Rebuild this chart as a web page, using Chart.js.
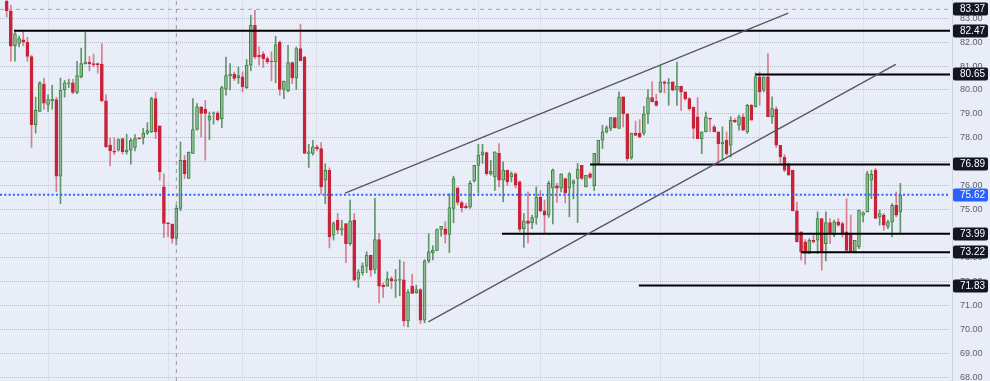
<!DOCTYPE html>
<html>
<head>
<meta charset="utf-8">
<script src="https://cdn.jsdelivr.net/npm/chart.js@4.4.0/dist/chart.umd.min.js"></script>
<style>
  html, body { margin: 0; padding: 0; background: #e9edf8; }
  canvas { display: block; }
</style>
</head>
<body>
<canvas id="grafico" width="990" height="381"></canvas>
<script>
// velas diarias (valores aproximados)
const apertura = [83.7,83.3,81.85,81.95,82.1,82.0,81.4,78.55,79.1,80.25,79.4,79.55,79.6,76.4,80.0,80.25,80.3,79.9,80.55,81.1,
  81.17,81.1,81.1,81.08,79.55,77.7,77.45,77.48,77.97,77.42,77.48,77.6,78.0,78.0,78.2,78.25,79.64,78.5,75.95,74.45,
  74.4,73.8,75.05,77.06,76.3,77.35,78.35,79.3,79.2,78.74,79.0,79.05,78.8,80.03,80.6,80.66,80.5,80.55,80.1,81.04,
  82.7,81.45,81.5,81.31,81.2,81.17,82.0,80.02,79.96,81.15,80.5,81.73,81.38,77.35,77.35,77.62,77.55,76.23,76.64,73.93,
  74.56,74.14,74.42,73.58,74.56,72.1,72.36,72.64,73.1,72.5,73.75,71.84,71.8,72.12,72.03,72.05,72.07,70.35,71.8,71.53,
  71.66,70.38,72.86,73.2,73.3,74.17,74.2,73.97,75.05,75.9,75.3,75.14,75.1,76.2,76.85,77.3,77.38,76.5,76.37,77.35,
  76.23,76.65,76.37,76.5,76.16,74.2,74.53,74.45,74.67,75.53,74.95,74.77,75.9,76.0,75.9,76.3,75.9,76.1,76.3,76.85,
  75.95,76.5,76.0,76.93,77.9,78.25,78.39,78.85,78.39,79.71,79.0,77.17,78.2,78.2,78.2,79.0,79.68,79.53,79.92,80.34,
  80.27,80.34,80.0,80.16,79.92,79.64,79.29,78.88,77.97,78.25,78.8,78.46,78.25,77.76,77.9,77.69,78.73,78.53,78.88,78.25,
  79.36,79.29,80.55,79.99,80.55,78.88,79.2,77.69,77.2,76.93,76.65,74.95,74.07,73.65,73.17,73.72,73.72,74.63,73.58,74.46,
  73.93,74.49,74.42,74.07,74.0,73.24,73.44,74.77,74.91,76.23,76.65,74.7,74.77,74.3,74.49,75.18,74.91];
const maximo = [83.8,83.55,82.5,82.25,82.45,82.2,81.45,79.7,80.35,80.5,79.8,80.2,79.7,80.5,80.4,80.45,80.45,81.2,81.75,82.4,
  81.4,81.5,81.13,81.94,79.8,78.0,78.0,77.97,77.97,78.15,77.97,78.14,78.0,78.4,78.64,79.7,79.9,78.5,76.5,74.46,
  74.4,75.18,77.83,77.27,77.41,79.64,79.43,79.3,79.57,79.08,79.08,79.1,80.16,81.38,81.1,80.75,80.96,80.76,81.27,83.12,
  83.33,81.8,81.6,81.38,81.6,82.25,82.05,80.37,81.87,81.17,81.8,82.75,81.41,77.73,77.9,77.7,77.8,76.92,76.75,74.49,
  74.84,74.56,74.42,75.4,74.84,72.5,72.78,73.24,73.1,75.47,74.0,71.94,72.4,72.2,72.5,72.9,72.82,71.66,72.3,71.84,
  71.7,72.91,74.0,73.5,74.2,74.3,74.49,75.67,76.4,75.95,75.35,75.25,76.2,76.85,77.73,77.73,77.4,77.06,77.42,77.76,
  77.0,76.65,76.58,76.55,76.2,74.84,75.74,74.77,75.95,75.8,75.4,76.2,76.7,76.1,76.5,76.3,76.55,76.25,76.93,76.85,
  76.43,76.55,77.35,77.9,78.53,78.5,78.85,78.85,79.92,79.71,79.0,78.2,78.7,78.76,79.32,80.02,80.34,79.82,81.03,80.38,
  80.48,80.34,81.17,80.16,79.92,79.68,79.29,79.68,78.25,79.08,78.8,78.53,78.25,78.46,78.25,78.88,78.8,78.95,79.0,79.4,
  79.4,80.71,80.75,80.55,81.52,79.71,79.3,77.69,77.3,76.93,76.65,75.32,74.07,73.75,73.79,73.93,74.91,74.63,74.91,74.63,
  74.56,74.63,74.49,75.46,74.77,73.72,74.98,74.91,76.6,76.65,76.72,74.98,74.84,74.56,75.25,75.74,76.1];
const minimo = [83.05,81.2,81.2,81.8,81.85,81.2,77.6,78.2,79.1,79.2,79.1,79.2,75.75,75.25,79.7,80.1,79.85,79.85,80.5,81.08,
  80.8,80.97,80.7,79.5,77.6,76.83,77.3,77.45,77.32,77.32,76.9,77.45,77.95,77.74,78.14,78.22,77.97,76.23,73.84,73.86,
  73.6,73.52,74.95,76.3,76.3,77.35,78.32,78.04,77.07,77.93,78.57,78.7,78.43,79.78,80.0,80.4,80.27,79.92,80.06,80.8,
  81.31,81.04,80.94,81.1,80.38,80.3,79.78,79.64,79.92,80.27,80.02,81.22,77.35,76.76,77.28,77.45,75.65,75.25,73.4,73.73,
  74.0,73.93,72.78,73.51,72.03,71.75,72.26,72.36,72.22,72.33,71.1,71.33,71.8,71.7,71.33,71.4,70.13,70.1,71.5,71.5,
  70.24,70.27,72.78,72.9,73.28,73.89,73.6,73.2,74.45,75.2,74.9,75.05,75.05,76.15,75.7,76.93,76.44,76.44,75.8,75.95,
  75.33,76.02,76.16,75.9,74.07,73.42,73.61,74.2,74.39,74.9,74.03,74.67,74.4,75.3,75.74,75.28,74.7,75.45,74.46,76.25,
  75.95,76.3,75.8,76.9,77.55,78.2,78.3,78.4,78.39,78.46,77.04,77.1,78.1,78.0,78.11,78.6,79.5,79.32,79.88,79.88,
  79.36,79.96,79.36,79.15,79.57,79.15,77.97,77.97,77.34,78.25,78.25,78.25,76.86,77.06,77.27,77.2,78.63,78.32,78.3,78.18,
  78.74,79.29,79.36,79.92,78.88,78.6,77.6,76.93,76.58,76.44,74.95,73.65,72.9,72.72,73.17,73.6,73.17,72.47,72.86,73.58,
  73.86,74.3,73.86,73.24,73.24,73.24,73.37,74.49,74.9,75.46,74.63,74.35,74.14,74.21,73.86,74.7,73.99];
const cierre = [83.3,81.83,82.35,82.15,82.0,81.4,78.55,79.15,80.3,79.45,79.6,79.62,76.4,80.0,80.3,80.3,79.9,80.6,81.1,81.17,
  81.1,81.06,81.05,79.55,77.62,77.45,77.4,77.93,77.42,77.48,77.9,77.97,77.96,78.2,78.3,79.64,78.25,76.58,74.42,74.4,
  73.8,75.05,77.06,76.5,77.41,78.35,79.3,79.02,79.02,78.9,79.05,78.76,80.1,80.6,80.66,80.48,80.6,80.13,81.04,82.7,
  81.38,81.38,81.31,81.17,81.17,81.9,80.02,80.37,81.15,80.5,81.73,81.22,77.35,77.42,77.62,77.55,75.95,76.64,73.86,74.42,
  74.14,74.21,73.58,74.53,72.05,72.4,72.64,73.1,72.47,73.75,71.8,71.78,72.12,72.03,72.07,72.07,70.35,71.56,71.5,71.66,
  70.38,72.86,73.24,73.3,74.17,74.3,73.97,75.09,76.3,75.3,75.08,75.08,76.1,76.85,77.28,77.42,76.5,76.6,77.42,76.23,
  76.65,76.16,76.51,76.02,74.17,74.53,74.42,74.67,75.53,74.95,74.77,76.1,76.65,75.9,76.5,75.7,76.5,76.2,76.7,76.3,
  76.43,76.35,77.35,77.9,78.25,78.43,78.85,78.43,79.71,79.0,77.13,78.2,78.1,78.04,78.99,79.68,79.5,79.36,80.34,80.27,
  80.3,79.99,80.16,79.92,79.64,79.22,78.39,77.97,78.25,78.88,78.78,78.25,77.76,77.82,77.34,78.73,78.68,78.88,78.32,79.36,
  78.74,80.55,79.92,80.55,78.88,79.22,77.69,77.2,76.65,76.44,74.95,73.65,73.23,73.17,73.72,73.65,74.63,73.24,74.46,74.0,
  74.49,74.35,74.0,73.3,73.24,73.72,74.98,74.88,76.5,76.48,74.63,74.84,74.35,74.49,75.18,74.77,75.62];

// niveles horizontales y desde que vela empiezan
const niveles = [82.47, 80.65, 76.89, 73.99, 73.22, 71.83];
const inicioNiveles = [1.8, 181, 141, 119.7, 192, 152.8];
const precioActual = 75.62;
const precioCursor = 83.37;
const velaCursor = 41;
// lineas de tendencia [vela, precio]
const tendenciaSuperior = [[81.8, 75.69], [188.9, 83.21]];
const tendenciaInferior = [[101.9, 70.31], [214.9, 81.07]];
// separaciones de mes (lineas verticales)
const divisiones = [10, 39, 57, 75, 99, 114, 129, 158, 182, 207];

const xMin = -1.62, xMax = 228.0;
const yMin = 67.84, yMax = 83.76;

const verde = "#3e8045", verdeRelleno = "#8dbf92", rojo = "#c8233a";
const sube = apertura.map((o, i) => cierre[i] >= o);

const mechas = apertura.map((o, i) => ({ x: i, y: [minimo[i], maximo[i]] }));
const cuerpos = apertura.map((o, i) => ({ x: i, y: [Math.min(o, cierre[i]), Math.max(o, cierre[i])] }));

function linea(puntos, color, ancho, guiones) {
  return {
    type: "line",
    data: puntos.map(p => ({ x: p[0], y: p[1] })),
    borderColor: color,
    borderWidth: ancho,
    borderDash: guiones || [],
    pointRadius: 0,
    order: 1,
  };
}

const datasets = [
  {
    type: "bar",
    data: mechas,
    backgroundColor: sube.map(s => (s ? "rgba(62,128,69,0.8)" : "rgba(200,35,58,0.55)")),
    barThickness: 1,
    grouped: false,
    minBarLength: 1,
    order: 10,
  },
  {
    type: "bar",
    data: cuerpos,
    backgroundColor: sube.map(s => (s ? verdeRelleno : rojo)),
    borderColor: sube.map(s => (s ? verde : rojo)),
    borderWidth: 1,
    borderSkipped: false,
    barThickness: 3,
    grouped: false,
    minBarLength: 1,
    order: 9,
  },
  linea([[velaCursor, yMin], [velaCursor, yMax]], "#9598a1", 1, [4, 4]),
  linea([[xMin, precioCursor], [xMax, precioCursor]], "#a3a6af", 1, [4, 4]),
  linea([[xMin, precioActual], [xMax, precioActual]], "#2962ff", 2, [2, 2.3]),
  linea(tendenciaSuperior, "#555860", 1.3),
  linea(tendenciaInferior, "#555860", 1.3),
];
niveles.forEach((v, k) => {
  datasets.push(linea([[inicioNiveles[k], v], [xMax, v]], "#000000", 2));
});

// cajas de precio sobre el eje derecho
const etiquetas = {
  id: "etiquetas",
  afterDraw(chart) {
    const { ctx, chartArea } = chart;
    const y = chart.scales.y;
    const cajas = niveles.map(v => [v, "#131722"]);
    cajas.push([precioActual, "#2962ff"]);
    cajas.push([precioCursor, "#131722"]);
    ctx.save();
    ctx.strokeStyle = "#cfd3de";
    ctx.lineWidth = 1;
    ctx.beginPath();
    ctx.moveTo(chartArea.right + 2.5, 0);
    ctx.lineTo(chartArea.right + 2.5, chart.height);
    ctx.stroke();
    ctx.font = "10px 'Liberation Sans', Arial, sans-serif";
    ctx.textBaseline = "middle";
    ctx.textAlign = "left";
    cajas.forEach(([v, color]) => {
      const py = Math.round(y.getPixelForValue(v));
      ctx.fillStyle = color;
      ctx.beginPath();
      ctx.roundRect(chartArea.right + 3, py - 6.5, 35, 13, 2);
      ctx.fill();
      ctx.fillStyle = "#ffffff";
      ctx.fillText(v.toFixed(2), chartArea.right + 10, py + 0.5);
    });
    ctx.restore();
  },
};

new Chart(document.getElementById("grafico"), {
  type: "bar",
  data: { datasets: datasets },
  options: {
    responsive: false,
    animation: false,
    devicePixelRatio: 1,
    layout: { padding: 0 },
    plugins: { legend: { display: false }, tooltip: { enabled: false } },
    scales: {
      x: {
        type: "linear",
        min: xMin,
        max: xMax,
        offset: false,
        afterBuildTicks: s => { s.ticks = divisiones.map(v => ({ value: v })); },
        afterFit: s => { s.height = 0; },
        ticks: { display: false },
        grid: { color: "#dde1ec", lineWidth: 1, drawTicks: false, offset: false },
        border: { display: false },
      },
      y: {
        position: "right",
        min: yMin,
        max: yMax,
        afterFit: s => { s.width = 40; s.paddingTop = 0; s.paddingBottom = 0; },
        ticks: {
          stepSize: 1,
          includeBounds: false,
          padding: 10,
          color: "#5d606b",
          font: { family: "'Liberation Sans', Arial, sans-serif", size: 9 },
          callback: v => v.toFixed(2),
        },
        grid: { color: "#b9bdc9", lineWidth: 1, drawTicks: false },
        border: { display: false, dash: [1, 1] },
      },
    },
  },
  plugins: [etiquetas],
});
</script>
</body>
</html>
